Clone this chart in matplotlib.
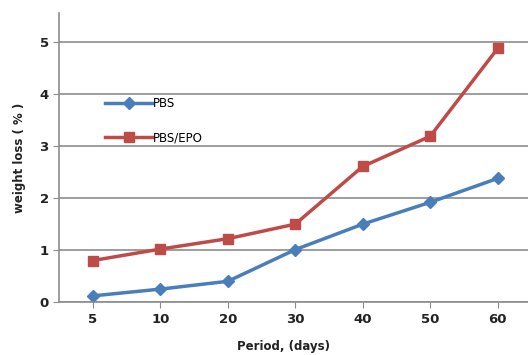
import numpy as np
import matplotlib.pyplot as plt

# 数据
periods = ["5", "10", "20", "30", "40", "50", "60"]
pbs = [0.12, 0.25, 0.40, 1.01, 1.50, 1.92, 2.38]
pbs_epo = [0.80, 1.02, 1.22, 1.50, 2.61, 3.19, 4.88]

fig = plt.figure(figsize=(5.28, 3.55), dpi=100)
ax = fig.add_axes([0.112, 0.149, 0.888, 0.814])

x = np.arange(len(periods))
ax.plot(x, pbs, color="#4a7ebb", lw=2.5, marker="D", ms=6, label="PBS")
ax.plot(x, pbs_epo, color="#be4b48", lw=2.5, marker="s", ms=7.5, label="PBS/EPO")

ax.set_xlim(-0.5, 6.45)
ax.set_ylim(0, 5.56)
ax.set_yticks(range(6))
ax.set_xticks(x)
ax.set_xticklabels(periods)
ax.grid(True, axis="y", color="#8c8c8c", lw=1.2)
ax.set_axisbelow(True)
for s in ["top", "right"]:
    ax.spines[s].set_visible(False)
for s in ["left", "bottom"]:
    ax.spines[s].set_color("#8c8c8c")
    ax.spines[s].set_linewidth(1.2)
ax.tick_params(colors="#8c8c8c", labelcolor="#222222", labelsize=9.5, length=4)
for t in ax.get_xticklabels() + ax.get_yticklabels():
    t.set_fontweight("bold")

ax.set_xlabel("Period, (days)", fontsize=8.5, fontweight="bold", color="#222222")
ax.set_ylabel("weight loss ( % )", fontsize=8.5, fontweight="bold", color="#222222")
ax.xaxis.set_label_coords(0.478, -0.13)
ax.yaxis.set_label_coords(-0.07, 0.5)

ax.legend(loc="upper left", bbox_to_anchor=(0.075, 0.745), frameon=False,
          fontsize=8.5, handlelength=4, labelspacing=1.75, handletextpad=0.1)

plt.savefig("out.png")
